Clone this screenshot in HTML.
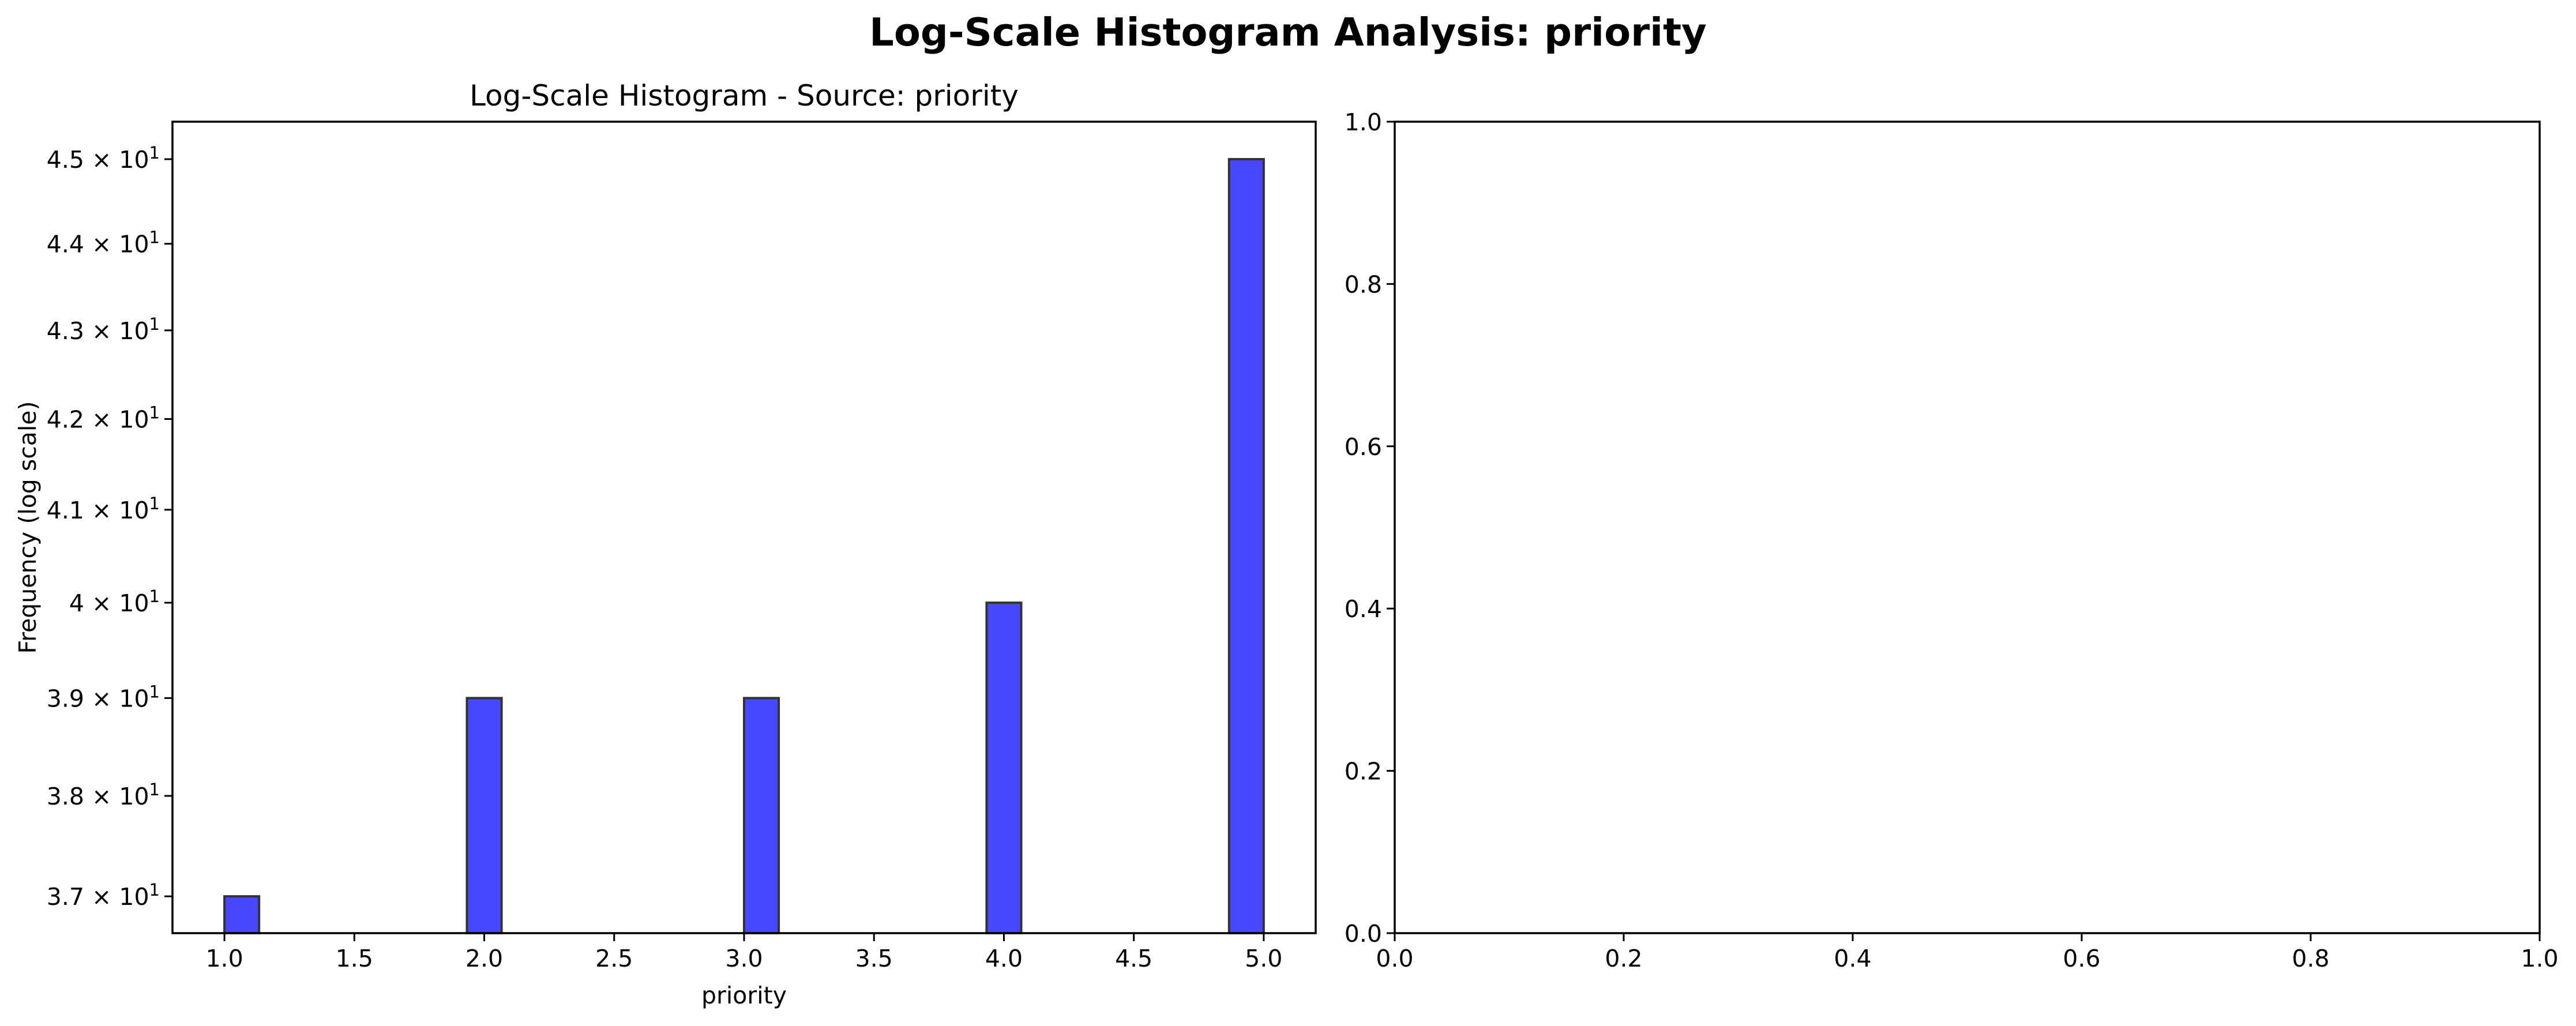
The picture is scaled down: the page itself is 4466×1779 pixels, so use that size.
<!DOCTYPE html>
<html><head><meta charset="utf-8"><style>
body{margin:0;background:#fff}
svg{display:block;font-family:"DejaVu Sans","Liberation Sans",sans-serif}
</style></head><body>
<svg id="fig" width="4466" height="1779" viewBox="0 0 4466 1779" xmlns="http://www.w3.org/2000/svg">
<rect width="4466" height="1779" fill="#fff"/>
<text x="2233" y="79" text-anchor="middle" font-size="67" font-weight="bold">Log-Scale Histogram Analysis: priority</text>
<g id="left"></g>
<g id="right"></g>
</svg>
<script>
const binCenters = [1.0667, 2.0, 3.0667, 4.0, 4.9333];
const counts = [37, 39, 39, 40, 45];
const binWidth = 0.13333;
const xTicks = [1.0, 1.5, 2.0, 2.5, 3.0, 3.5, 4.0, 4.5, 5.0];
const yTickMantissas = [3.7, 3.8, 3.9, 4.0, 4.1, 4.2, 4.3, 4.4, 4.5];
const yTickLabels = ["3.7","3.8","3.9","4","4.1","4.2","4.3","4.4","4.5"];
const rightTicks = [0, 0.2, 0.4, 0.6, 0.8, 1.0];

const NS = "http://www.w3.org/2000/svg";
function mk(parent, tag, attrs, text){
  const e = document.createElementNS(NS, tag);
  for (const k in attrs) e.setAttribute(k, attrs[k]);
  if (text !== undefined) e.textContent = text;
  parent.appendChild(e); return e;
}
const L = {x0:299, x1:2281, y0:211, y1:1618};
const xmin = 0.8, xmax = 5.2, ymin = 36.64, ymax = 45.45;
const sx = v => L.x0 + (v - xmin) / (xmax - xmin) * (L.x1 - L.x0);
const sy = v => L.y1 - (Math.log10(v) - Math.log10(ymin)) / (Math.log10(ymax) - Math.log10(ymin)) * (L.y1 - L.y0);
const left = document.getElementById('left');

for (let i = 0; i < counts.length; i++) {
  const xa = sx(binCenters[i] - binWidth/2), xb = sx(binCenters[i] + binWidth/2);
  const r = mk(left, 'rect', {x: xa, y: sy(counts[i]), width: xb - xa, height: L.y1 - sy(counts[i]), fill: '#4848ff', stroke: '#333', 'stroke-width': 4});
  
  
}
const fr = mk(left, 'rect', {x: L.x0, y: L.y0, width: L.x1 - L.x0, height: L.y1 - L.y0, fill: 'none', stroke: '#000', 'stroke-width': 3.5});


xTicks.forEach(t => {
  const x = sx(t);
  mk(left, 'line', {x1: x, x2: x, y1: L.y1, y2: L.y1 + 14, stroke: '#000', 'stroke-width': 3});
  const tx = mk(left, 'text', {x: x, y: L.y1 + 58, 'text-anchor': 'middle', 'font-size': 41}, t.toFixed(1));
  
  
});
yTickMantissas.forEach((m, i) => {
  const y = sy(m * 10);
  mk(left, 'line', {x1: L.x0 - 14, x2: L.x0, y1: y, y2: y, stroke: '#000', 'stroke-width': 3});
  const tx = mk(left, 'text', {x: L.x0 - 22, y: y + 15, 'text-anchor': 'end', 'font-size': 41});
  
  
  mk(tx, 'tspan', {}, yTickLabels[i] + ' × 10');
  mk(tx, 'tspan', {dy: -16, 'font-size': 29}, '1');
});
const t1 = mk(left, 'text', {x: (L.x0 + L.x1)/2, y: 183, 'text-anchor': 'middle', 'font-size': 50}, 'Log-Scale Histogram - Source: priority');


const xl = mk(left, 'text', {x: (L.x0 + L.x1)/2, y: 1740, 'text-anchor': 'middle', 'font-size': 41}, 'priority');


const yl = mk(left, 'text', {x: 0, y: 0, 'text-anchor': 'middle', 'font-size': 41, transform: 'translate(62,' + (L.y0 + L.y1)/2 + ') rotate(-90)'}, 'Frequency (log scale)');



const R = {x0:2418, x1:4403, y0:211, y1:1618};
const right = document.getElementById('right');
const fr2 = mk(right, 'rect', {x: R.x0, y: R.y0, width: R.x1 - R.x0, height: R.y1 - R.y0, fill: 'none', stroke: '#000', 'stroke-width': 3.5});


rightTicks.forEach(t => {
  const x = R.x0 + t * (R.x1 - R.x0), y = R.y1 - t * (R.y1 - R.y0);
  mk(right, 'line', {x1: x, x2: x, y1: R.y1, y2: R.y1 + 14, stroke: '#000', 'stroke-width': 3});
  const tx = mk(right, 'text', {x: x, y: R.y1 + 58, 'text-anchor': 'middle', 'font-size': 41}, t.toFixed(1));
  
  
  mk(right, 'line', {x1: R.x0 - 14, x2: R.x0, y1: y, y2: y, stroke: '#000', 'stroke-width': 3});
  const ty = mk(right, 'text', {x: R.x0 - 22, y: y + 15, 'text-anchor': 'end', 'font-size': 41}, t.toFixed(1));
  
  
});
</script>
</body></html>
